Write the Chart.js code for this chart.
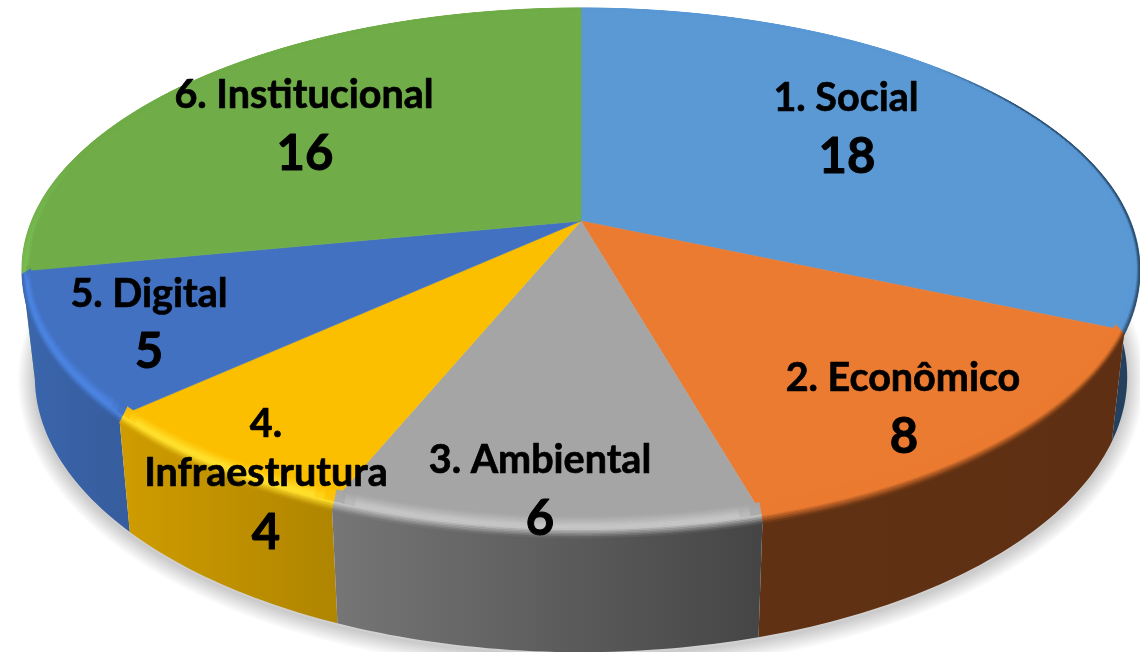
<!DOCTYPE html>
<html><head><meta charset="utf-8">
<style>html,body{margin:0;padding:0;background:#fff}canvas{display:block}</style>
<script src="https://cdn.jsdelivr.net/npm/chart.js@4"></script>
</head><body>
<canvas id="c" width="1140" height="652"></canvas>
<script>
const categories = ["1. Social","2. Econômico","3. Ambiental","4. Infraestrutura","5. Digital","6. Institucional"];
const values = [18,8,6,4,5,16];
const faceColors = ["#5b99d5","#eb7b31","#a5a5a5","#fcbf00","#4271c1","#70ac48"];
const wallLeft  = ["#24405c","#603113","#767676","#cf9c00","#3b66ad","#78b850"];
const wallRight = ["#24405c","#5e2f12","#454545","#b08500","#365d9e","#78b850"];
const rimLights = [null,null,"#c6c6c6","#ffe02e","#4d85e2","#7cbf56"];
const labelLines = [["1. Social"],["2. Econômico"],["3. Ambiental"],["4.","Infraestrutura"],["5. Digital"],["6. Institucional"]];

// label anchors (centre of text, pixels), kept apart from data
const nameAnchors = [[[846,98]],[[903,378]],[[540,460]],[[266,424],[266,473]],[[149,294]],[[304,95]]];
const valueAnchors = [[847,157],[904,437],[540,519],[266,533],[149,352],[305,154]];

// perspective of the disc
const CX=581, CY=221, K=-0.184, A=549.5, B=211.5;
function proj(th,r){const u=r*Math.cos(th),v=r*Math.sin(th),d=1+K*v;return [CX+A*u/d,(CY+B*v)/d];}
const clamp=(x)=>Math.max(0,Math.min(1,x));
function outer(th){const p=proj(th,1);return [p[0],p[1]+8*clamp(Math.sin(th)+0.1)];}
function inner(th){const p=proj(th,0.985);return [p[0],p[1]-8*clamp(Math.sin(th)+0.1)];}
function floorPt(th){const p=proj(th,1);return [CX+(p[0]-CX)*0.977,p[1]*1.055+93];}
function rgb(h){return [1,3,5].map(i=>parseInt(h.substr(i,2),16));}
function mix(a,b,t){return a.map((x,i)=>x+(b[i]-x)*t);}
function css(c){return `rgb(${c.map(Math.round).join(',')})`;}

const pie3d={
  id:'pie3d',
  beforeDatasetsDraw(chart){
    const ctx=chart.ctx, arcs=chart.getDatasetMeta(0).data;
    const STEP=Math.PI/180;
    const angles=(s,e)=>{const o=[];const n=Math.max(2,Math.ceil((e-s)/STEP));for(let i=0;i<=n;i++)o.push(s+(e-s)*i/n);return o;};

    // ground shadow: soft stacked strokes under the lower outline
    ctx.save();
    ctx.strokeStyle='rgba(0,0,0,0.014)';ctx.lineJoin='round';ctx.lineCap='round';
    for(let w=34;w>=2;w-=2){
      ctx.lineWidth=w;ctx.beginPath();
      angles(-0.2,Math.PI+0.15).forEach((t,i)=>{const p=floorPt(t);i?ctx.lineTo(p[0],p[1]+3):ctx.moveTo(p[0],p[1]+3);});
      ctx.stroke();
    }
    ctx.restore();

    const xRange=arcs.map(a=>{const xs=angles(a.startAngle,a.endAngle).map(t=>proj(t,1)[0]);return [Math.min(...xs),Math.max(...xs)];});
    const wallAt=(i,x)=>mix(rgb(wallLeft[i]),rgb(wallRight[i]),clamp((x-xRange[i][0])/(xRange[i][1]-xRange[i][0])));

    // walls, back to front
    [5,0,4,1,3,2].forEach(i=>{
      const a=arcs[i], ts=angles(a.startAngle,a.endAngle);
      const g=ctx.createLinearGradient(xRange[i][0],0,xRange[i][1],0);
      g.addColorStop(0,wallLeft[i]);g.addColorStop(1,wallRight[i]);
      ctx.fillStyle=g;ctx.beginPath();
      ts.forEach((t,j)=>{const p=proj(t,1);j?ctx.lineTo(p[0],p[1]):ctx.moveTo(p[0],p[1]);});
      ts.slice().reverse().forEach(t=>{const p=floorPt(t);ctx.lineTo(p[0],p[1]);});
      ctx.closePath();ctx.fill();
    });

    // top faces
    arcs.forEach((a,i)=>{
      ctx.fillStyle=ctx.strokeStyle=a.options.backgroundColor;ctx.lineWidth=0.6;
      ctx.beginPath();ctx.moveTo(CX,CY);
      angles(a.startAngle,a.endAngle).forEach(t=>{const p=proj(t,1);ctx.lineTo(p[0],p[1]);});
      ctx.closePath();ctx.fill();ctx.stroke();
    });

    // bevelled rim
    const N=14;
    arcs.forEach((a,i)=>{
      const F=rgb(faceColors[i]), L=rimLights[i]?rgb(rimLights[i]):F;
      const ts=angles(a.startAngle,a.endAngle);
      for(let j=0;j<ts.length-1;j++){
        const t0=ts[j],t1=ts[j+1],tm=(t0+t1)/2;
        const w=clamp(Math.max((Math.sin(tm)+0.3)/0.5,(Math.cos(tm)-0.72)/0.15));
        const W=wallAt(i,proj(tm,1)[0]);
        const edge=clamp(Math.min(tm-a.startAngle,a.endAngle-tm)/0.04);
        for(let k=0;k<N;k++){
          const s0=k/N,s1=(k+1)/N,sm=(s0+s1)/2;
          let c;
          if(sm<0.45)c=mix(F,L,sm/0.45);
          else if(sm<0.6)c=L;
          else c=mix(L,W,(sm-0.6)/0.4);
          c=mix(F,c,w);
          if(sm<0.6)c=mix(F,c,edge);
          const q=[t0,t1].map(t=>{const o=outer(t),n=inner(t);return [[n[0]+(o[0]-n[0])*s0,n[1]+(o[1]-n[1])*s0],[n[0]+(o[0]-n[0])*s1,n[1]+(o[1]-n[1])*s1]];});
          ctx.fillStyle=ctx.strokeStyle=css(c);ctx.lineWidth=0.5;
          ctx.beginPath();ctx.moveTo(q[0][0][0],q[0][0][1]);ctx.lineTo(q[1][0][0],q[1][0][1]);
          ctx.lineTo(q[1][1][0],q[1][1][1]);ctx.lineTo(q[0][1][0],q[0][1][1]);ctx.closePath();ctx.fill();ctx.stroke();
        }
      }
    });

    // labels
    ctx.fillStyle='#000';ctx.strokeStyle='#000';ctx.lineJoin='round';ctx.textAlign='center';ctx.textBaseline='middle';
    labelLines.forEach((lines,i)=>{
      ctx.font='bold 39.5px Lato';ctx.lineWidth=0.7;
      lines.forEach((s,j)=>{const p=nameAnchors[i][j];ctx.fillText(s,p[0],p[1]);ctx.strokeText(s,p[0],p[1]);});
      ctx.font='bold 49px Lato';ctx.lineWidth=1;
      const p=valueAnchors[i];const v=String(values[i]);ctx.fillText(v,p[0],p[1]);ctx.strokeText(v,p[0],p[1]);
    });
    return false;
  }
};

new Chart(document.getElementById('c'),{
  type:'pie',
  data:{labels:categories,datasets:[{data:values,backgroundColor:faceColors,borderWidth:0}]},
  options:{responsive:false,animation:false,events:[],layout:{padding:0},
    plugins:{legend:{display:false},tooltip:{enabled:false}}},
  plugins:[pie3d]
});
</script>
</body></html>
